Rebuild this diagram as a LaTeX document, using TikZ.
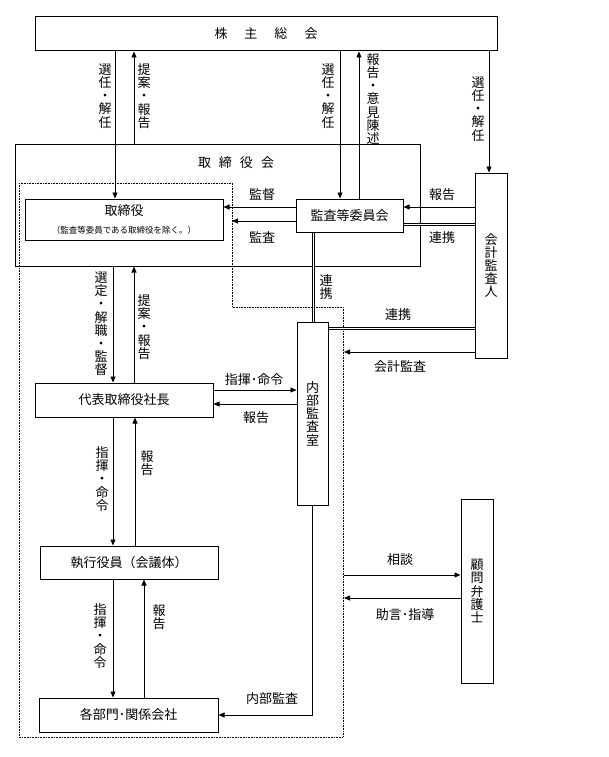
\documentclass[tikz,border=0pt]{standalone}
\usepackage{fontspec}
\setmainfont{Noto Sans CJK JP}
\usetikzlibrary{arrows.meta}
\begin{document}
\begin{tikzpicture}[x=1pt,y=-1pt,
  font=\fontsize{13}{15}\selectfont,
  box/.style={draw,line width=1pt,inner sep=0pt},
  vlab/.style={align=center,inner sep=0pt,font=\fontsize{13}{13.2}\selectfont},
  lab/.style={inner sep=0pt},
  arr/.style={line width=0.8pt,-{Triangle[length=6pt,width=5pt]}},
  dbl/.style={line width=0.9pt,double=white,double distance=1.6pt},
  dotline/.style={line width=0.6pt,densely dotted}]
\useasboundingbox (0,0) rectangle (608,757);

% dotted region
\draw[dotline] (19,183) -- (232,183) -- (232,307) -- (343,307) -- (343,737) -- (19,737) -- cycle;

% boxes
\node[box,minimum width=462pt,minimum height=34pt] (soukai) at (266,34) {株\hspace{17pt}主\hspace{17pt}総\hspace{17pt}会};
\node[box,minimum width=405pt,minimum height=122pt] (bod) at (217.5,205) {};
\node[lab] (bodt) at (236,163) {取\hspace{8pt}締\hspace{8pt}役\hspace{8pt}会};
\node[box,minimum width=198pt,minimum height=41pt,align=center] (tori) at (124,219.5) {取締役\\[3pt]{\fontsize{8.5}{9}\selectfont （監査等委員である取締役を除く。）}};
\node[box,minimum width=107pt,minimum height=33pt] (kansa) at (349.5,215.5) {監査等委員会};
\node[box,minimum width=32pt,minimum height=185pt,align=center,font=\fontsize{13}{13.2}\selectfont] (kaikei) at (491,265.5) {会\\計\\監\\査\\人};
\node[box,minimum width=31pt,minimum height=183pt,align=center,font=\fontsize{13}{13.2}\selectfont] (naibu) at (312.5,413.5) {内\\部\\監\\査\\室};
\node[box,minimum width=178pt,minimum height=34pt] (daihyo) at (124,400) {代表取締役社長};
\node[box,minimum width=178pt,minimum height=33pt] (shikko) at (129,562.5) {執行役員（会議体）};
\node[box,minimum width=179pt,minimum height=34pt] (kakubu) at (128.5,715) {各部門･関係会社};
\node[box,minimum width=32pt,minimum height=184pt,align=center,font=\fontsize{13}{13.2}\selectfont] (bengo) at (477,591) {顧\\問\\弁\\護\\士};

% helper coordinates
\coordinate (xa) at (115,0);
\coordinate (xb) at (134,0);
\coordinate (xc) at (340,0);
\coordinate (xd) at (359,0);
\coordinate (xe) at (489,0);
\coordinate (xf) at (113,0);
\coordinate (xg) at (135,0);
\coordinate (xh) at (144,0);
\coordinate (xi) at (313.5,0);
\coordinate (xdot1) at (232,0);
\coordinate (xdot2) at (344,0);
\coordinate (ya) at (0,207);
\coordinate (yb) at (0,221);
\coordinate (yc) at (0,224.5);
\coordinate (yd) at (0,328.5);
\coordinate (ye) at (0,352);
\coordinate (yf) at (0,390);
\coordinate (yg) at (0,404);
\coordinate (yh) at (0,575);
\coordinate (yi) at (0,598);

% connectors
\draw[arr] (soukai.south -| xa) -- (tori.north -| xa);
\draw[arr] (bod.north -| xb) -- (soukai.south -| xb);
\draw[arr] (soukai.south -| xc) -- (kansa.north -| xc);
\draw[arr] (kansa.north -| xd) -- (soukai.south -| xd);
\draw[arr] (soukai.south -| xe) -- (kaikei.north -| xe);
\draw[arr] (kansa.west |- ya) -- (tori.east |- ya);
\draw[arr] (kansa.west |- yb) -- (xdot1 |- yb);
\draw[arr] (kaikei.west |- ya) -- (kansa.east |- ya);
\draw[dbl] (kansa.east |- yc) -- (kaikei.west |- yc);
\draw[dbl] (kansa.south -| xi) -- (naibu.north -| xi);
\draw[dbl] (naibu.east |- yd) -- (kaikei.west |- yd);
\draw[arr] (kaikei.west |- ye) -- (xdot2 |- ye);
\draw[arr] (bod.south -| xf) -- (daihyo.north -| xf);
\draw[arr] (daihyo.north -| xb) -- (bod.south -| xb);
\draw[arr] (daihyo.east |- yf) -- (naibu.west |- yf);
\draw[arr] (naibu.west |- yg) -- (daihyo.east |- yg);
\draw[arr] (daihyo.south -| xf) -- (shikko.north -| xf);
\draw[arr] (shikko.north -| xg) -- (daihyo.south -| xg);
\draw[arr] (shikko.south -| xf) -- (kakubu.north -| xf);
\draw[arr] (kakubu.north -| xh) -- (shikko.south -| xh);
\draw[arr] (naibu.south) |- (kakubu.east);
\draw[arr] (xdot2 |- yh) -- (bengo.west |- yh);
\draw[arr] (bengo.west |- yi) -- (xdot2 |- yi);

% vertical labels
\node[vlab] (l1) at (105,96) {選\\任\\・\\解\\任};
\node[vlab] (l2) at (144,96) {提\\案\\・\\報\\告};
\node[vlab] (l3) at (328,96) {選\\任\\・\\解\\任};
\node[vlab] (l4) at (373,99) {報\\告\\・\\意\\見\\陳\\述};
\node[vlab] (l5) at (478,109) {選\\任\\・\\解\\任};
\node[vlab] (l6) at (326,287) {連\\携};
\node[vlab] (l7) at (101,324) {選\\定\\・\\解\\職\\・\\監\\督};
\node[vlab] (l8) at (144,327) {提\\案\\・\\報\\告};
\node[vlab] (l9) at (102,479) {指\\揮\\・\\命\\令};
\node[vlab] (l10) at (147,463) {報\\告};
\node[vlab] (l11) at (100,636) {指\\揮\\・\\命\\令};
\node[vlab] (l12) at (159,617) {報\\告};

% horizontal labels
\node[lab] (h1) at (262,195) {監督};
\node[lab] (h2) at (262,237) {監査};
\node[lab] (h3) at (442,195) {報告};
\node[lab] (h4) at (442,238) {連携};
\node[lab] (h5) at (398,315) {連携};
\node[lab] (h6) at (400,367) {会計監査};
\node[lab] (h7) at (254,380) {指揮･命令};
\node[lab] (h8) at (256,418) {報告};
\node[lab] (h9) at (400,560) {相談};
\node[lab] (h10) at (405,615) {助言･指導};
\node[lab] (h11) at (272,699) {内部監査};
\end{tikzpicture}
\end{document}
